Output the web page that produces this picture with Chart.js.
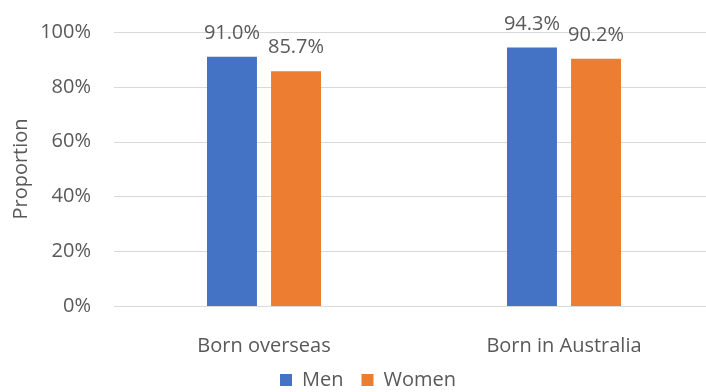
<!DOCTYPE html>
<html>
<head>
<meta charset="utf-8">
<script src="https://cdn.jsdelivr.net/npm/chart.js@4/dist/chart.umd.min.js"></script>
<style>
  html, body { margin: 0; padding: 0; background: #fff; overflow: hidden; }
  #wrap { width: 736px; height: 400px; }
</style>
</head>
<body>
<div id="wrap"><canvas id="c" width="736" height="400"></canvas></div>
<script>
const categories = ["Born overseas", "Born in Australia"];
const menValues = [0.910, 0.943];
const womenValues = [0.857, 0.902];
const seriesNames = ["Men", "Women"];
const yTicks = [0, 0.2, 0.4, 0.6, 0.8, 1.0];

const FONT = "'Open Sans', 'Liberation Sans', sans-serif";
const SIZE = 20;
const GREY = "#595959";
const GRID = "#d9d9d9";

// Horizontal gridlines at each y tick, running across the full plot width
const yGrid = {
  id: "yGrid",
  beforeDatasetsDraw(chart) {
    const { ctx, chartArea, scales } = chart;
    ctx.save();
    ctx.strokeStyle = GRID;
    ctx.lineWidth = 1;
    yTicks.forEach(v => {
      const y = Math.round(scales.y.getPixelForValue(v)) + 0.5;
      ctx.beginPath();
      ctx.moveTo(chartArea.left, y);
      ctx.lineTo(chartArea.right, y);
      ctx.stroke();
    });
    ctx.restore();
  }
};

// Value labels above each bar
const barLabels = {
  id: "barLabels",
  afterDatasetsDraw(chart) {
    const ctx = chart.ctx;
    ctx.save();
    ctx.font = SIZE + "px " + FONT;
    ctx.fillStyle = GREY;
    ctx.textAlign = "center";
    ctx.textBaseline = "alphabetic";
    chart.data.datasets.forEach((ds, i) => {
      chart.getDatasetMeta(i).data.forEach((bar, j) => {
        ctx.fillText((ds.data[j] * 100).toFixed(1) + "%", bar.x, bar.y - 18);
      });
    });
    ctx.restore();
  }
};

// Nudge the legend a little to the right of the canvas centre
const legendShift = {
  id: "legendShift",
  afterLayout(chart) {
    const lg = chart.legend;
    if (lg) { lg.left += 11; lg.right += 11; }
  }
};

new Chart(document.getElementById("c"), {
  type: "bar",
  data: {
    labels: categories,
    datasets: [
      { label: seriesNames[0], data: menValues, backgroundColor: "#4472C4" },
      { label: seriesNames[1], data: womenValues, backgroundColor: "#ED7D31" }
    ]
  },
  options: {
    responsive: false,
    animation: false,
    layout: { padding: { top: 0, right: 22, bottom: 0, left: 0 } },
    datasets: { bar: { categoryPercentage: 0.427, barPercentage: 0.78 } },
    scales: {
      x: {
        afterFit(scale) { scale.height = 46; },
        grid: { display: false },
        border: { display: false },
        ticks: { color: GREY, font: { family: FONT, size: SIZE }, padding: 20 }
      },
      y: {
        min: 0, max: 1,
        afterBuildTicks(scale) { scale.ticks = yTicks.map(v => ({ value: v })); },
        afterFit(scale) { scale.width = 114; },
        grid: { display: false, drawTicks: false },
        border: { display: false },
        ticks: {
          color: GREY, padding: 23,
          font: { family: FONT, size: SIZE, lineHeight: 0.9 },
          callback: v => Math.round(v * 100) + "%"
        },
        title: {
          display: true, text: "Proportion", color: GREY,
          font: { family: FONT, size: SIZE },
          padding: { top: 9, bottom: 0 }
        }
      }
    },
    plugins: {
      legend: {
        position: "bottom",
        labels: {
          color: GREY, font: { family: FONT, size: SIZE },
          boxWidth: 12, boxHeight: 12, padding: 18
        }
      },
      tooltip: { enabled: false }
    }
  },
  plugins: [yGrid, barLabels, legendShift]
});
</script>
</body>
</html>
